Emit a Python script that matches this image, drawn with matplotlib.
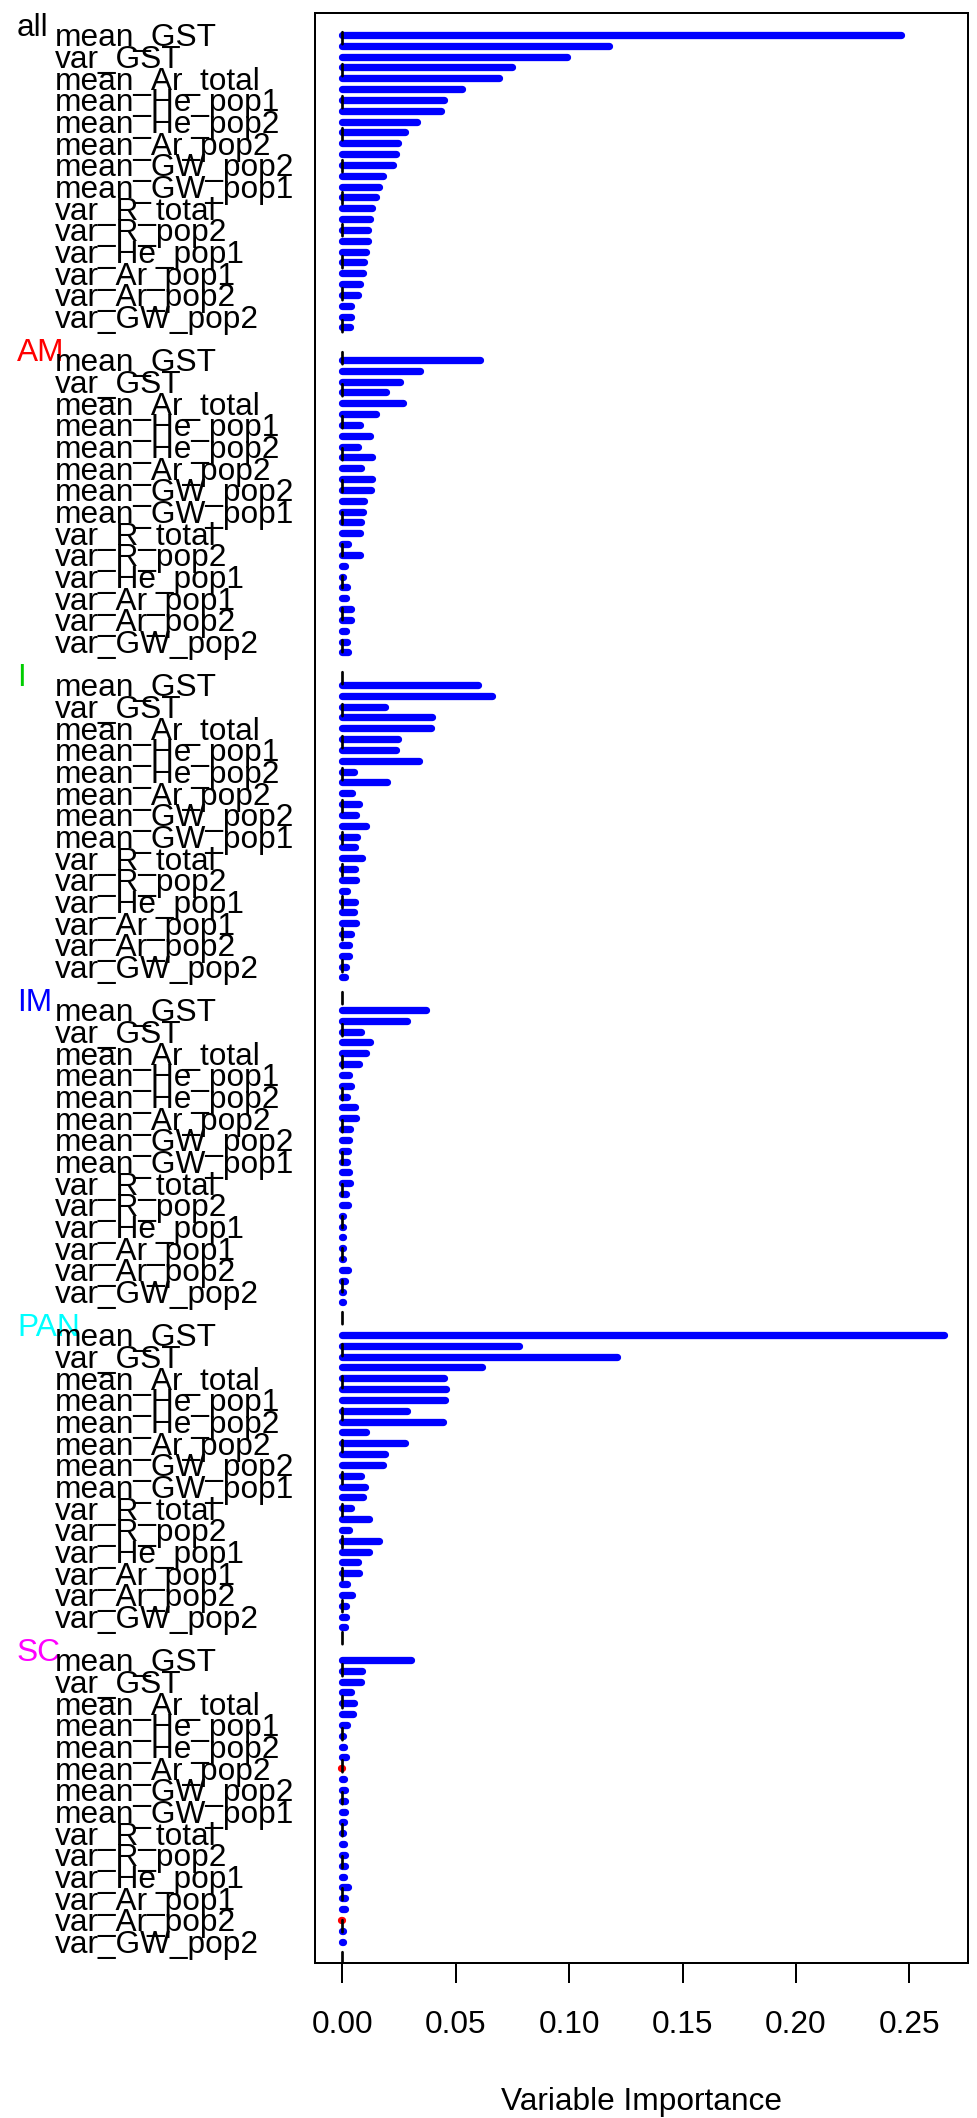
import numpy as np
import matplotlib
matplotlib.use("Agg")
import matplotlib.pyplot as plt
from matplotlib import transforms

plt.rcParams["font.family"] = ["Liberation Sans", "DejaVu Sans"]
plt.rcParams["lines.scale_dashes"] = False

# ---------------------------------------------------------------- data
groups = ["all", "AM", "I", "IM", "PAN", "SC"]
group_colors = ["black", "red", "#00CD00", "blue", "cyan", "magenta"]

# labels shown on every other predictor row
var_labels = ["mean_GST", "var_GST", "mean_Ar_total", "mean_He_pop1",
              "mean_He_pop2", "mean_Ar_pop2", "mean_GW_pop2", "mean_GW_pop1",
              "var_R_total", "var_R_pop2", "var_He_pop1", "var_Ar_pop1",
              "var_Ar_pop2", "var_GW_pop2"]

imp_all = [0.2465, 0.1176, 0.0990, 0.0748, 0.0691, 0.0529, 0.0447, 0.0434,
           0.0329, 0.0276, 0.0245, 0.0238, 0.0223, 0.0179, 0.0160, 0.0147,
           0.0132, 0.0121, 0.0115, 0.0115, 0.0103, 0.0096, 0.0091, 0.0079,
           0.0069, 0.0040, 0.0037, 0.0035]
imp_AM = [0.0608, 0.0344, 0.0256, 0.0191, 0.0267, 0.0147, 0.0079, 0.0123,
          0.0069, 0.0132, 0.0084, 0.0131, 0.0125, 0.0096, 0.0091, 0.0081,
          0.0076, 0.0025, 0.0076, 0.0013, 0.0003, 0.0022, 0.0015, 0.0040,
          0.0037, 0.0018, 0.0021, 0.0025]
imp_I = [0.0598, 0.0661, 0.0187, 0.0395, 0.0389, 0.0245, 0.0238, 0.0337,
         0.0050, 0.0198, 0.0044, 0.0072, 0.0062, 0.0106, 0.0066, 0.0057,
         0.0088, 0.0057, 0.0059, 0.0022, 0.0054, 0.0050, 0.0059, 0.0040,
         0.0028, 0.0028, 0.0015, 0.0013]
imp_IM = [0.0367, 0.0285, 0.0084, 0.0123, 0.0106, 0.0072, 0.0029, 0.0040,
          0.0021, 0.0057, 0.0062, 0.0035, 0.0029, 0.0025, 0.0022, 0.0029,
          0.0032, 0.0018, 0.0025, 0.0003, 0.0001, 0.0003, 0.0001, 0.0003,
          0.0025, 0.0013, 0.0002, 0.0003]
imp_PAN = [0.2655, 0.0780, 0.1210, 0.0616, 0.0448, 0.0456, 0.0454, 0.0287,
           0.0444, 0.0103, 0.0275, 0.0187, 0.0179, 0.0081, 0.0098, 0.0091,
           0.0037, 0.0118, 0.0029, 0.0160, 0.0116, 0.0069, 0.0073, 0.0022,
           0.0044, 0.0015, 0.0015, 0.0010]
imp_SC = [0.0301, 0.0088, 0.0081, 0.0040, 0.0050, 0.0047, 0.0021, 0.0003,
          0.0007, 0.0015, -0.0007, 0.0007, 0.0013, 0.0010, 0.0010, 0.0007,
          0.0003, 0.0007, 0.0010, 0.0010, 0.0006, 0.0025, 0.0010, 0.0010,
          -0.0004, 0.0003, 0.0003, -0.0003]
importances = [imp_all, imp_AM, imp_I, imp_IM, imp_PAN, imp_SC]

x_ticks = [0.00, 0.05, 0.10, 0.15, 0.20, 0.25]
x_label = "Variable Importance"

# ---------------------------------------------------------------- layout
W, H, DPI = 977, 2118, 100
FS = 22.8
ROWS_PER_GROUP = 30

fig = plt.figure(figsize=(W / DPI, H / DPI), dpi=DPI)
ax_top, ax_bot, ax_left, ax_right = 13.3, 1963.3, 315, 968
ax = fig.add_axes([ax_left / W, 1 - ax_bot / H,
                   (ax_right - ax_left) / W, (ax_bot - ax_top) / H])

# bars: thick round-capped segments from zero, red when negative
ys, vals = [], []
for g, imp in enumerate(importances):
    for i, v in enumerate(imp):
        ys.append(g * ROWS_PER_GROUP + i)
        vals.append(v)
ys = np.array(ys, dtype=float)
vals = np.array(vals)
cols = np.where(vals < 0, "red", "blue")
ax.hlines(ys, 0, vals, colors=cols, lw=5.25, capstyle="round", zorder=2)

ax.set_xlim(-0.01204, 0.27588)
ax.set_ylim(178, -2)

# dashed reference line at zero
px = 0.72
ax.plot([0, 0], [-2, 178], color="black", lw=1.95,
        linestyle=(13.3 * px, (12 * px, 20 * px)),
        dash_capstyle="round", zorder=3, clip_on=True)

# row labels and group headers
lab_tr = transforms.blended_transform_factory(fig.transFigure, ax.transData)
lab_tr = transforms.offset_copy(lab_tr, fig=fig, y=-8.2, units="points")
for g, name in enumerate(groups):
    base = g * ROWS_PER_GROUP
    ax.text(17 / W, base - 1, name, color=group_colors[g], fontsize=FS,
            transform=lab_tr, ha="left", va="baseline", clip_on=False)
    for i, lab in enumerate(var_labels):
        ax.text(55 / W, base + 2 * i, lab, color="black", fontsize=FS,
                transform=lab_tr, ha="left", va="baseline", clip_on=False)

# axes styling
ax.set_yticks([])
ax.set_xticks(x_ticks)
ax.set_xticklabels([f"{t:.2f}" for t in x_ticks])
ax.tick_params(axis="x", direction="out", length=14.4, width=1.44,
               labelsize=FS, pad=19)
for sp in ax.spines.values():
    sp.set_linewidth(1.44)
    sp.set_color("black")

fig.text((ax_left + ax_right) / 2 / W, 1 - 2110 / H, x_label,
         ha="center", va="baseline", fontsize=FS)

fig.savefig("out.png", dpi=DPI, facecolor="white")
